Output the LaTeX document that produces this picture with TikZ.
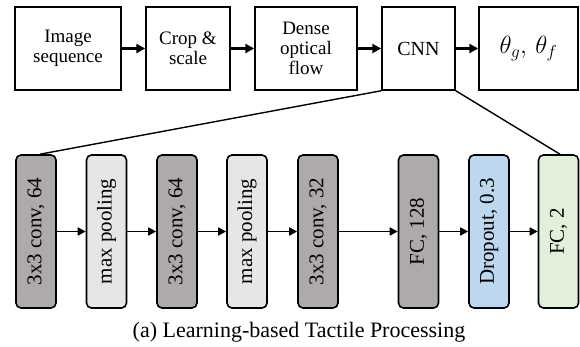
\documentclass[tikz,border=0pt]{standalone}
\usepackage{fontspec}
\setmainfont{Liberation Serif}
\usetikzlibrary{arrows.meta}
\definecolor{convgray}{HTML}{AEAAAA}
\definecolor{poolgray}{HTML}{E7E6E6}
\definecolor{dropblue}{HTML}{BDD7EE}
\definecolor{fcgreen}{HTML}{E2F0D9}
\tikzset{
  topbox/.style={draw=black, line width=1.5pt, minimum height=83pt, inner sep=0pt, align=center, font=\fontsize{19}{20}\selectfont},
  layer/.style={draw=black, line width=1.6pt, rounded corners=5pt, minimum width=40pt, minimum height=153pt, inner sep=0pt, font=\fontsize{21}{24}\selectfont},
  toparrow/.style={line width=2.5pt, -{Triangle[length=9pt,width=9pt]}},
  botarrow/.style={line width=1.6pt, -{Triangle[length=8pt,width=8pt]}},
  zoomline/.style={line width=1.4pt}
}
\begin{document}
\begin{tikzpicture}[x=1pt,y=-1pt]
\useasboundingbox (0,0) rectangle (580,347);
% top row
\node[topbox, minimum width=106pt] (img) at (68,48.5) {Image\\sequence};
\node[topbox, minimum width=84pt] (crop) at (188,48.5) {Crop \&\\scale};
\node[topbox, minimum width=102pt] (flow) at (306,48.5) {Dense\\optical\\flow};
\node[topbox, minimum width=73pt, font=\fontsize{20}{22}\selectfont] (cnn) at (418.5,48.5) {CNN};
\node[topbox, minimum width=99pt, font=\fontsize{23}{26}\selectfont] (out) at (528.5,48.5) {$\theta_g,\,\theta_f$};
\draw[toparrow] (img) -- (crop);
\draw[toparrow] (crop) -- (flow);
\draw[toparrow] (flow) -- (cnn);
\draw[toparrow] (cnn) -- (out);
% bottom row
\node[layer, fill=convgray] (c1) at (36,231.5) {\rotatebox{90}{3x3 conv, 64}};
\node[layer, fill=poolgray] (p1) at (106.5,231.5) {\rotatebox{90}{max pooling}};
\node[layer, fill=convgray] (c2) at (177,231.5) {\rotatebox{90}{3x3 conv, 64}};
\node[layer, fill=poolgray] (p2) at (247,231.5) {\rotatebox{90}{max pooling}};
\node[layer, fill=convgray] (c3) at (318,231.5) {\rotatebox{90}{3x3 conv, 32}};
\node[layer, fill=convgray] (fc1) at (418.5,231.5) {\rotatebox{90}{FC, 128}};
\node[layer, fill=dropblue] (dr) at (489,231.5) {\rotatebox{90}{Dropout, 0.3}};
\node[layer, fill=fcgreen] (fc2) at (558.5,231.5) {\rotatebox{90}{FC, 2}};
\draw[botarrow] (c1) -- (p1);
\draw[botarrow] (p1) -- (c2);
\draw[botarrow] (c2) -- (p2);
\draw[botarrow] (p2) -- (c3);
\draw[botarrow] (c3) -- (fc1);
\draw[botarrow] (fc1) -- (dr);
\draw[botarrow] (dr) -- (fc2);
% zoom lines
\draw[zoomline] (cnn.south west) -- ([xshift=4pt]c1.north);
\draw[zoomline] (cnn.south east) -- ([xshift=1.5pt]fc2.north);
% caption
\node[font=\fontsize{22}{24}\selectfont, inner sep=0pt] (cap) at (299,332) {(a) Learning-based Tactile Processing};
\end{tikzpicture}
\end{document}
